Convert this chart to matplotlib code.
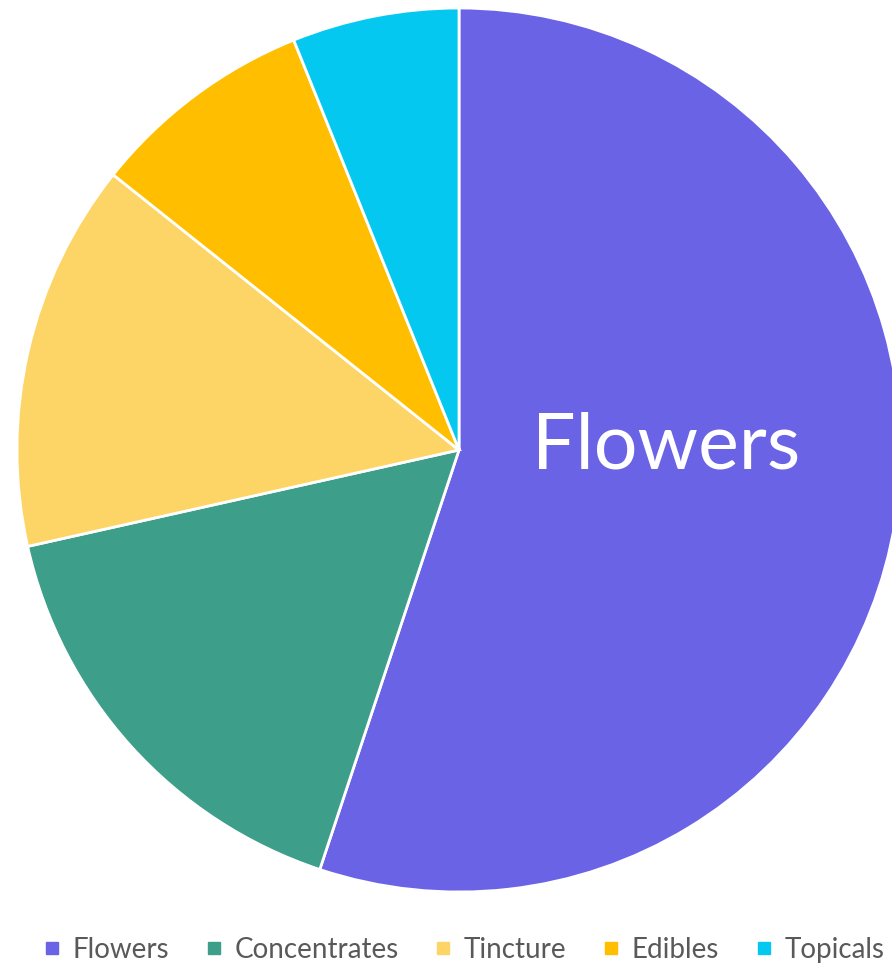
import matplotlib
matplotlib.use("Agg")
import matplotlib.pyplot as plt
from matplotlib.lines import Line2D

categories = ["Flowers", "Concentrates", "Tincture", "Edibles", "Topicals"]
values = [55.1, 16.4, 14.2, 8.2, 6.1]
colors = ["#6A63E6", "#3D9E8A", "#FDD566", "#FFBF00", "#05C8F0"]

plt.rcParams['font.family'] = ['Lato', 'DejaVu Sans']

W, H = 892, 967
fig = plt.figure(figsize=(W / 100, H / 100), dpi=100)
cx, cy, r = 459, 450, 442
ax = fig.add_axes([(cx - r) / W, (H - cy - r) / H, 2 * r / W, 2 * r / H])
ax.set_xlim(-1, 1)
ax.set_ylim(-1, 1)
ax.axis('off')

wedges, _ = ax.pie(values, colors=colors, startangle=90, counterclock=False,
                   radius=1, wedgeprops=dict(edgecolor='white', linewidth=2.0),
                   frame=False)
for w in wedges:
    w.set_clip_on(False)
ax.set_xlim(-1, 1)
ax.set_ylim(-1, 1)

# Label for Flowers only
ax.text((666 - cx) / r, -(447 - cy) / r, categories[0], color='white',
        fontsize=55.5, ha='center', va='center')

handles = [Line2D([0], [0], marker='s', linestyle='none', markersize=9,
                  markerfacecolor=c, markeredgecolor=c) for c in colors]
fig.legend(handles, categories, loc='center', ncol=5,
           bbox_to_anchor=(464 / W, 1 - 950 / H), frameon=False,
           fontsize=20, labelcolor='#595959', handlelength=0.6,
           handletextpad=0.45, columnspacing=1.3)

fig.savefig("out.png", dpi=100)
